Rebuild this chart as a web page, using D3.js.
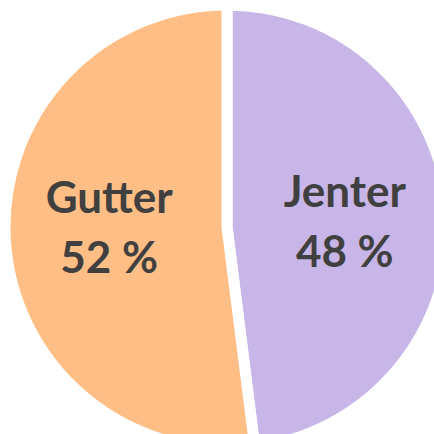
<!DOCTYPE html>
<html>
<head>
<meta charset="utf-8">
<script src="https://cdn.jsdelivr.net/npm/d3@7"></script>
<style>
  html, body { margin: 0; padding: 0; background: #fff; }
  svg { display: block; }
</style>
</head>
<body>
<svg></svg>
<script>
  const categories = ["Jenter", "Gutter"];
  const values = [48, 52];
  const colors = ["#c9b6e8", "#ffbe86"];

  const width = 434,
    height = 434,
    cx = 227,                 // pie centre
    cy = 227,
    r = 222,                  // outer radius (incl. white stroke)
    labelR = 118;             // label distance from centre

  const svg = d3.select("svg")
    .attr("width", width)
    .attr("height", height);

  const pie = d3.pie().sort(null).value(d => d.v);
  const arcs = pie(categories.map((c, i) => ({c: c, v: values[i], col: colors[i]})));

  const arc = d3.arc().innerRadius(0).outerRadius(r);
  const labelArc = d3.arc().innerRadius(labelR).outerRadius(labelR);

  const g = svg.append("g").attr("transform", `translate(${cx},${cy})`);

  g.selectAll("path")
    .data(arcs)
    .enter()
    .append("path")
    .attr("d", arc)
    .attr("fill", d => d.data.col)
    .attr("stroke", "#fff")
    .attr("stroke-width", 11)
    .attr("stroke-linejoin", "miter");

  // centroid, nudged: left label a bit up, right label a bit down
  function labelPos(d) {
    const [x, y] = labelArc.centroid(d);
    return [x, y + (y > 0 ? -6 : 2)];
  }

  const lab = g.selectAll("g.lab")
    .data(arcs)
    .enter()
    .append("g")
    .attr("class", "lab")
    .attr("transform", d => `translate(${labelPos(d)})`);

  lab.append("text")
    .attr("y", -15)
    .text(d => d.data.c);

  lab.append("text")
    .attr("y", 45)
    .text(d => d.data.v + " %");

  lab.selectAll("text")
    .attr("text-anchor", "middle")
    .style("font-family", "Lato, 'Open Sans', sans-serif")
    .style("font-weight", "bold")
    .style("font-size", "44px")
    .style("fill", "#404040");
</script>
</body>
</html>
